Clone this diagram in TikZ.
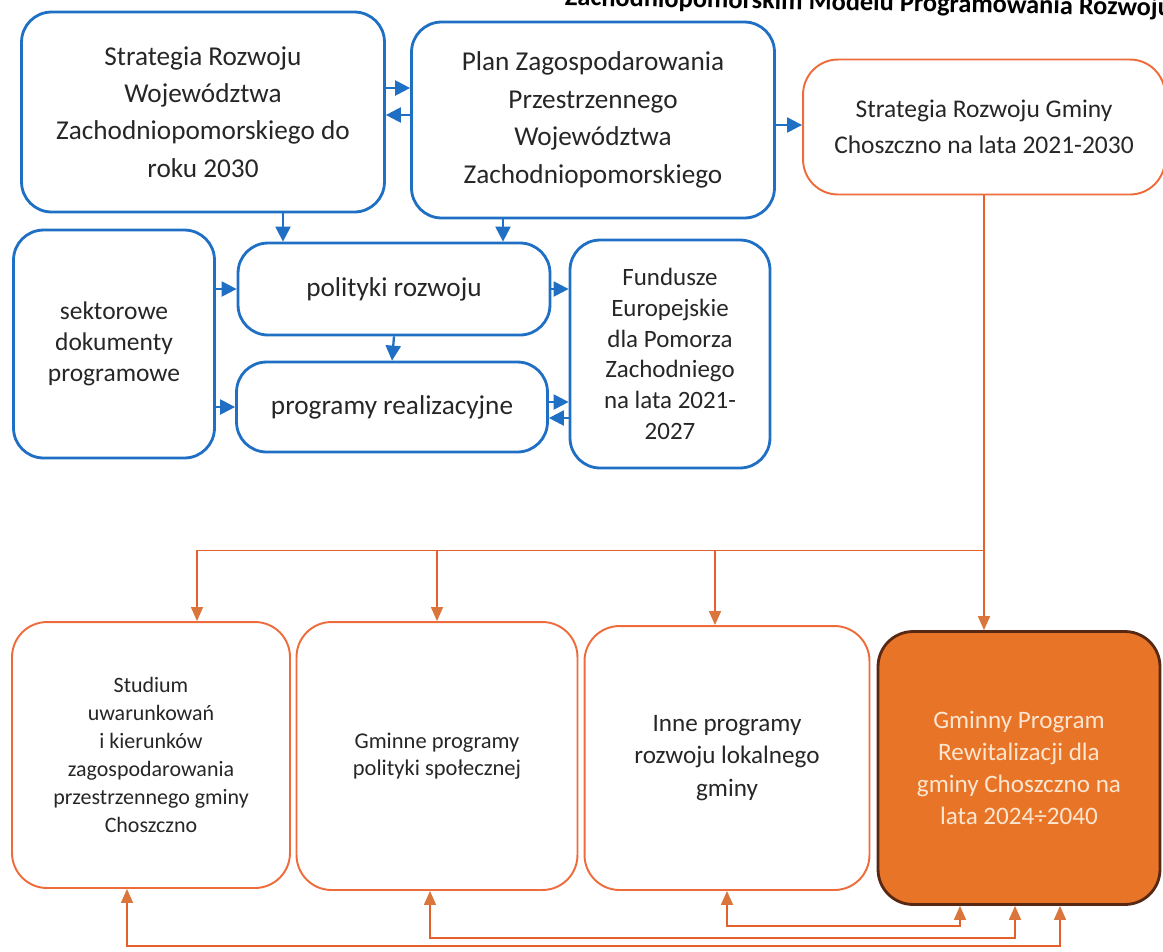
\documentclass[tikz,border=0pt]{standalone}
\usepackage{fontspec}
\setmainfont{Carlito}
\usetikzlibrary{arrows.meta,calc}

\definecolor{blu}{RGB}{31,111,197}
\definecolor{ora}{RGB}{230,96,44}
\definecolor{orbox}{RGB}{238,108,60}
\definecolor{orhead}{RGB}{218,118,60}
\definecolor{gprfill}{RGB}{232,116,40}
\definecolor{gprline}{RGB}{88,40,18}
\definecolor{gprtext}{RGB}{252,230,208}

\begin{document}
\begin{tikzpicture}[x=0.02cm,y=-0.02cm,
    bbox/.style={shape=rectangle,draw=blu,line width=1.6pt,rounded corners=0.6cm,align=center,text=black!85,inner sep=0pt},
    obox/.style={shape=rectangle,draw=orbox,line width=1.1pt,rounded corners=0.7cm,align=center,text=black!85,inner sep=0pt},
    barr/.style={-{Triangle[length=0.3cm,width=0.3cm]},draw=blu,line width=1.3pt},
    oarr/.style={-{Triangle[length=0.28cm,width=0.24cm,color=orhead]},draw=ora,line width=0.9pt},
    oboth/.style={{Triangle[length=0.28cm,width=0.24cm,color=orhead]}-{Triangle[length=0.28cm,width=0.24cm,color=orhead]},draw=ora,line width=0.9pt}]
    \useasboundingbox (0,0) rectangle (1163,951);
    \clip (0,0) rectangle (1163,951);
    \node[anchor=base east,rotate=-1,inner sep=0pt,font=\bfseries\fontsize{15}{18}\selectfont] (title) at (1172,16) {Zachodniopomorskim Modelu Programowania Rozwoju};
    % wojewodztwo
    \node[bbox,minimum width=7.26cm,minimum height=4cm,font=\fontsize{15.5}{21.3}\selectfont] (srwz) at (203,112) {Strategia Rozwoju\\Województwa\\Zachodniopomorskiego do\\roku 2030};
    \node[bbox,minimum width=7.26cm,minimum height=3.92cm,font=\fontsize{15.5}{21.3}\selectfont] (plan) at (593,120) {Plan Zagospodarowania\\Przestrzennego\\Województwa\\Zachodniopomorskiego};
    \node[obox,minimum width=7.24cm,minimum height=2.7cm,font=\fontsize{14.5}{20.5}\selectfont] (srg) at (984,127) {Strategia Rozwoju Gminy\\Choszczno na lata 2021-2030};
    \node[bbox,minimum width=4.02cm,minimum height=4.56cm,font=\fontsize{14.5}{17.7}\selectfont] (sekt) at (114,344) {sektorowe\\dokumenty\\programowe};
    \node[bbox,minimum width=6.24cm,minimum height=1.84cm,font=\fontsize{15.5}{20}\selectfont] (pol) at (394,289) {polityki rozwoju};
    \node[bbox,minimum width=6.22cm,minimum height=1.8cm,font=\fontsize{15.5}{20}\selectfont] (prog) at (392,407) {programy realizacyjne};
    \node[bbox,minimum width=4cm,minimum height=4.56cm,font=\fontsize{14.2}{17.5}\selectfont] (fund) at (670,354) {Fundusze\\Europejskie\\dla Pomorza\\Zachodniego\\na lata 2021-\\2027};
    % gmina
    \node[obox,minimum width=5.56cm,minimum height=5.32cm,font=\fontsize{12.5}{16}\selectfont] (stud) at (151,755) {Studium\\uwarunkowań\\i kierunków\\zagospodarowania\\przestrzennego gminy\\Choszczno};
    \node[obox,minimum width=5.62cm,minimum height=5.36cm,font=\fontsize{12.8}{15.5}\selectfont] (gmin) at (437,756) {Gminne programy\\polityki społecznej};
    \node[obox,minimum width=5.7cm,minimum height=5.28cm,font=\fontsize{14.3}{18.3}\selectfont] (inne) at (727,758) {Inne programy\\rozwoju lokalnego\\gminy};
    \node[obox,draw=gprline,fill=gprfill,line width=1.6pt,text=gprtext,minimum width=5.64cm,minimum height=5.46cm,font=\fontsize{14.3}{18.2}\selectfont] (gpr) at (1019,768) {Gminny Program\\Rewitalizacji dla\\gminy Choszczno na\\lata 2024÷2040};
    % blue connectors
    \draw[barr] ($(srwz.east)+(0,-24)$) coordinate (a1) -- (a1 -| plan.west);
    \draw[barr] ($(plan.west)+(0,-5)$) coordinate (a2) -- (a2 -| srwz.east);
    \draw[barr] ($(plan.east)+(0,5)$) coordinate (a3) -- (a3 -| srg.west);
    \draw[barr] ($(srwz.south)+(80,0)$) coordinate (a4) -- (a4 |- pol.north);
    \draw[barr] ($(plan.south)+(-90,0)$) coordinate (a5) -- (a5 |- pol.north);
    \draw[barr] (sekt.east |- pol.west) -- (pol.west);
    \draw[barr] (sekt.east |- prog.west) -- (prog.west);
    \draw[barr] (pol.south) -- (prog.north);
    \draw[barr] (pol.east) -- (pol.east -| fund.west);
    \draw[barr] ($(prog.east)+(0,-5)$) coordinate (a6) -- (a6 -| fund.west);
    \draw[barr] ($(fund.west |- prog.east)+(0,11)$) coordinate (a7) -- (a7 -| prog.east);
    % orange connectors
    \coordinate (j) at ($(srg.south)+(0,355)$);
    \draw[oarr] (srg.south) -- (srg.south |- gpr.north);
    \draw[oarr] (j) -| ($(stud.north)+(46,0)$);
    \draw[oarr] (j) -| (gmin.north);
    \draw[oarr] (j) -| ($(inne.north)+(-12,0)$);
    \draw[oboth] (inne.south) -- ++(0,35) -| ($(gpr.south)+(-59,0)$);
    \draw[oboth] ($(gmin.south)+(-7,0)$) -- ++(0,47) -| ($(gpr.south)+(-4,0)$);
    \draw[oboth] ($(stud.south)+(-24,0)$) -- ++(0,57) -| ($(gpr.south)+(41,0)$);
\end{tikzpicture}
\end{document}
